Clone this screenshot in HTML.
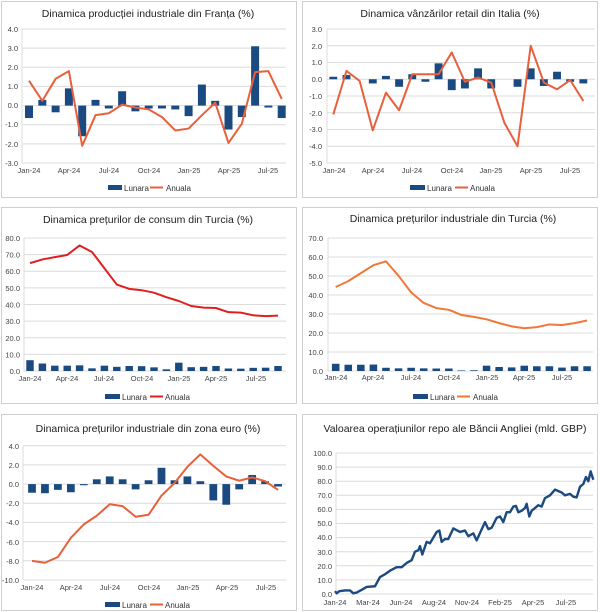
<!DOCTYPE html>
<html><head><meta charset="utf-8"><style>
html,body{margin:0;padding:0;background:#fff}
svg{display:block;font-family:"Liberation Sans",sans-serif}
.t{font-size:10.5px;fill:#222;text-anchor:middle}
.y{font-size:7.5px;fill:#444;text-anchor:end}
.x{font-size:7.5px;fill:#444;text-anchor:middle}
.l{font-size:8px;fill:#333}
.g{stroke:#dcdcdc;stroke-width:1}
.b{fill:#1b4a80}
.ln{fill:none;stroke-width:2;vector-effect:non-scaling-stroke;stroke-linejoin:round}
.box{fill:none;stroke:#cfcfcf;stroke-width:1}
</style></head><body>
<svg width="600" height="612" viewBox="0 0 600 612">
<rect class="box" x="1.5" y="1.5" width="295" height="196"/>
<rect class="box" x="302.5" y="1.5" width="295" height="196"/>
<rect class="box" x="1.5" y="207.5" width="295" height="196"/>
<rect class="box" x="302.5" y="207.5" width="295" height="196"/>
<rect class="box" x="1.5" y="414.5" width="295" height="196"/>
<rect class="box" x="302.5" y="414.5" width="295" height="196"/>

<!-- Panel 1 -->
<text class="t" x="148" y="17">Dinamica producției industriale din Franța (%)</text>
<g class="g"><line x1="22" x2="286" y1="29" y2="29"/><line x1="22" x2="286" y1="48.1" y2="48.1"/><line x1="22" x2="286" y1="67.3" y2="67.3"/><line x1="22" x2="286" y1="86.4" y2="86.4"/><line x1="22" x2="286" y1="105.6" y2="105.6"/><line x1="22" x2="286" y1="124.7" y2="124.7"/><line x1="22" x2="286" y1="143.9" y2="143.9"/><line x1="22" x2="286" y1="163" y2="163"/><line x1="22" x2="22" y1="29" y2="163"/></g>
<g class="y"><text x="18" y="32">4.0</text><text x="18" y="51">3.0</text><text x="18" y="70">2.0</text><text x="18" y="89">1.0</text><text x="18" y="108">0.0</text><text x="18" y="127">-1.0</text><text x="18" y="147">-2.0</text><text x="18" y="166">-3.0</text></g>
<g class="x"><text x="29" y="173">Jan-24</text><text x="69" y="173">Apr-24</text><text x="109" y="173">Jul-24</text><text x="149" y="173">Oct-24</text><text x="189" y="173">Jan-25</text><text x="229" y="173">Apr-25</text><text x="268" y="173">Jul-25</text></g>
<g transform="translate(29,105.6) scale(13.3,-19.14)">
<g class="b"><rect x="-.3" y="-.65" width=".6" height=".65"/><rect x=".7" y="0" width=".6" height=".3"/><rect x="1.7" y="-.35" width=".6" height=".35"/><rect x="2.7" y="0" width=".6" height=".9"/><rect x="3.7" y="-1.6" width=".6" height="1.6"/><rect x="4.7" y="0" width=".6" height=".3"/><rect x="5.7" y="-.15" width=".6" height=".15"/><rect x="6.7" y="0" width=".6" height=".75"/><rect x="7.7" y="-.3" width=".6" height=".3"/><rect x="8.7" y="-.15" width=".6" height=".15"/><rect x="9.7" y="-.15" width=".6" height=".15"/><rect x="10.7" y="-.2" width=".6" height=".2"/><rect x="11.7" y="-.55" width=".6" height=".55"/><rect x="12.7" y="0" width=".6" height="1.1"/><rect x="13.7" y="0" width=".6" height=".25"/><rect x="14.7" y="-1.25" width=".6" height="1.25"/><rect x="15.7" y="-.6" width=".6" height=".6"/><rect x="16.7" y="0" width=".6" height="3.1"/><rect x="17.7" y="-.1" width=".6" height=".1"/><rect x="18.7" y="-.65" width=".6" height=".65"/></g>
<polyline class="ln" stroke="#e8603c" points="0,1.3 1,0.25 2,1.4 3,1.8 4,-2.1 5,-0.5 6,-0.4 7,0.05 8,-0.1 9,-0.2 10,-0.6 11,-1.3 12,-1.2 13,-0.5 14,0.15 15,-1.95 16,-0.95 17,1.75 18,1.8 19,0.35"/>
</g>
<rect class="b" x="108" y="185" width="14" height="5"/><text class="l" x="124" y="191">Lunara</text>
<line x1="150" x2="163" y1="187.5" y2="187.5" stroke="#e8603c" stroke-width="2"/><text class="l" x="166" y="191">Anuala</text>

<!-- Panel 2 -->
<text class="t" x="450" y="17">Dinamica vânzărilor retail din Italia (%)</text>
<g class="g"><line x1="327" x2="595" y1="29" y2="29"/><line x1="327" x2="595" y1="45.75" y2="45.75"/><line x1="327" x2="595" y1="62.5" y2="62.5"/><line x1="327" x2="595" y1="79.25" y2="79.25"/><line x1="327" x2="595" y1="96" y2="96"/><line x1="327" x2="595" y1="112.75" y2="112.75"/><line x1="327" x2="595" y1="129.5" y2="129.5"/><line x1="327" x2="595" y1="146.25" y2="146.25"/><line x1="327" x2="595" y1="163" y2="163"/><line x1="327" x2="327" y1="29" y2="163"/></g>
<g class="y"><text x="322" y="32">3.0</text><text x="322" y="49">2.0</text><text x="322" y="65">1.0</text><text x="322" y="82">0.0</text><text x="322" y="99">-1.0</text><text x="322" y="116">-2.0</text><text x="322" y="132">-3.0</text><text x="322" y="149">-4.0</text><text x="322" y="166">-5.0</text></g>
<g class="x"><text x="334" y="173">Jan-24</text><text x="373" y="173">Apr-24</text><text x="412" y="173">Jul-24</text><text x="452" y="173">Oct-24</text><text x="491" y="173">Jan-25</text><text x="531" y="173">Apr-25</text><text x="570" y="173">Jul-25</text></g>
<g transform="translate(333.3,79.25) scale(13.16,-16.75)">
<g class="b"><rect x="-.3" y="0" width=".6" height=".15"/><rect x=".7" y="0" width=".6" height=".25"/><rect x="2.7" y="-.25" width=".6" height=".25"/><rect x="3.7" y="0" width=".6" height=".2"/><rect x="4.7" y="-.45" width=".6" height=".45"/><rect x="5.7" y="0" width=".6" height=".3"/><rect x="6.7" y="-.15" width=".6" height=".15"/><rect x="7.7" y="0" width=".6" height=".95"/><rect x="8.7" y="-.65" width=".6" height=".65"/><rect x="9.7" y="-.55" width=".6" height=".55"/><rect x="10.7" y="0" width=".6" height=".65"/><rect x="11.7" y="-.55" width=".6" height=".55"/><rect x="13.7" y="-.45" width=".6" height=".45"/><rect x="14.7" y="0" width=".6" height=".65"/><rect x="15.7" y="-.4" width=".6" height=".4"/><rect x="16.7" y="0" width=".6" height=".45"/><rect x="17.7" y="-.15" width=".6" height=".15"/><rect x="18.7" y="-.25" width=".6" height=".25"/></g>
<polyline class="ln" stroke="#e8603c" points="0,-2.1 1,0.5 2,-0.1 3,-3.05 4,-0.8 5,-1.85 6,0.3 7,0.3 8,0.3 9,1.6 10,-0.15 11,0.1 12,-0.2 13,-2.6 14,-4.0 15,2.0 16,-0.2 17,-0.6 18,-0.05 19,-1.3"/>
</g>
<rect class="b" x="410" y="185" width="15" height="5"/><text class="l" x="427" y="191">Lunara</text>
<line x1="455" x2="468" y1="187.5" y2="187.5" stroke="#e8603c" stroke-width="2"/><text class="l" x="470" y="191">Anuala</text>

<!-- Panel 3 -->
<text class="t" x="148" y="223">Dinamica prețurilor de consum din Turcia (%)</text>
<g class="g"><line x1="24" x2="286" y1="238" y2="238"/><line x1="24" x2="286" y1="254.6" y2="254.6"/><line x1="24" x2="286" y1="271.25" y2="271.25"/><line x1="24" x2="286" y1="287.9" y2="287.9"/><line x1="24" x2="286" y1="304.5" y2="304.5"/><line x1="24" x2="286" y1="321.1" y2="321.1"/><line x1="24" x2="286" y1="337.75" y2="337.75"/><line x1="24" x2="286" y1="354.4" y2="354.4"/><line x1="24" x2="286" y1="371" y2="371"/><line x1="24" x2="24" y1="238" y2="371"/></g>
<g class="y"><text x="20" y="241">80.0</text><text x="20" y="257.5">70.0</text><text x="20" y="274">60.0</text><text x="20" y="291">50.0</text><text x="20" y="307.5">40.0</text><text x="20" y="324">30.0</text><text x="20" y="341">20.0</text><text x="20" y="357.5">10.0</text><text x="20" y="374">0.0</text></g>
<g class="x"><text x="30" y="381">Jan-24</text><text x="67" y="381">Apr-24</text><text x="104" y="381">Jul-24</text><text x="142" y="381">Oct-24</text><text x="179" y="381">Jan-25</text><text x="216" y="381">Apr-25</text><text x="256" y="381">Jul-25</text></g>
<g transform="translate(30,371) scale(12.4,-1.6625)">
<g class="b"><rect x="-.3" y="0" width=".6" height="6.5"/><rect x=".7" y="0" width=".6" height="4.5"/><rect x="1.7" y="0" width=".6" height="3.2"/><rect x="2.7" y="0" width=".6" height="3.2"/><rect x="3.7" y="0" width=".6" height="3.4"/><rect x="4.7" y="0" width=".6" height="1.6"/><rect x="5.7" y="0" width=".6" height="3.2"/><rect x="6.7" y="0" width=".6" height="2.5"/><rect x="7.7" y="0" width=".6" height="3.0"/><rect x="8.7" y="0" width=".6" height="2.9"/><rect x="9.7" y="0" width=".6" height="2.2"/><rect x="10.7" y="0" width=".6" height="1.0"/><rect x="11.7" y="0" width=".6" height="5.0"/><rect x="12.7" y="0" width=".6" height="2.3"/><rect x="13.7" y="0" width=".6" height="2.5"/><rect x="14.7" y="0" width=".6" height="3.0"/><rect x="15.7" y="0" width=".6" height="1.5"/><rect x="16.7" y="0" width=".6" height="1.4"/><rect x="17.7" y="0" width=".6" height="1.9"/><rect x="18.7" y="0" width=".6" height="2.0"/><rect x="19.7" y="0" width=".6" height="3.0"/></g>
<polyline class="ln" stroke="#e02020" points="0,64.9 1,67.1 2,68.5 3,69.8 4,75.5 5,71.6 6,61.8 7,52.0 8,49.4 9,48.6 10,47.1 11,44.4 12,42.1 13,39.1 14,38.1 15,37.9 16,35.4 17,35.1 18,33.5 19,33.0 20,33.3"/>
</g>
<rect class="b" x="105" y="394" width="15" height="5"/><text class="l" x="122" y="400">Lunara</text>
<line x1="150" x2="163" y1="396.5" y2="396.5" stroke="#e02020" stroke-width="2"/><text class="l" x="165" y="400">Anuala</text>

<!-- Panel 4 -->
<text class="t" x="453" y="222">Dinamica prețurilor industriale din Turcia (%)</text>
<g class="g"><line x1="328" x2="593" y1="238" y2="238"/><line x1="328" x2="593" y1="257" y2="257"/><line x1="328" x2="593" y1="276" y2="276"/><line x1="328" x2="593" y1="295" y2="295"/><line x1="328" x2="593" y1="314" y2="314"/><line x1="328" x2="593" y1="333" y2="333"/><line x1="328" x2="593" y1="352" y2="352"/><line x1="328" x2="593" y1="371" y2="371"/><line x1="328" x2="328" y1="238" y2="371"/></g>
<g class="y"><text x="323" y="241">70.0</text><text x="323" y="260">60.0</text><text x="323" y="279">50.0</text><text x="323" y="298">40.0</text><text x="323" y="317">30.0</text><text x="323" y="336">20.0</text><text x="323" y="355">10.0</text><text x="323" y="374">0.0</text></g>
<g class="x"><text x="336" y="380">Jan-24</text><text x="373" y="380">Apr-24</text><text x="411" y="380">Jul-24</text><text x="449" y="380">Oct-24</text><text x="487" y="380">Jan-25</text><text x="524" y="380">Apr-25</text><text x="562" y="380">Jul-25</text></g>
<g transform="translate(335.7,371) scale(12.57,-1.9)">
<g class="b"><rect x="-.3" y="0" width=".6" height="3.8"/><rect x=".7" y="0" width=".6" height="3.3"/><rect x="1.7" y="0" width=".6" height="3.3"/><rect x="2.7" y="0" width=".6" height="3.4"/><rect x="3.7" y="0" width=".6" height="1.7"/><rect x="4.7" y="0" width=".6" height="1.4"/><rect x="5.7" y="0" width=".6" height="1.7"/><rect x="6.7" y="0" width=".6" height="1.4"/><rect x="7.7" y="0" width=".6" height="1.3"/><rect x="8.7" y="0" width=".6" height="1.3"/><rect x="9.7" y="0" width=".6" height="0.3"/><rect x="10.7" y="0" width=".6" height="0.4"/><rect x="11.7" y="0" width=".6" height="2.8"/><rect x="12.7" y="0" width=".6" height="2.1"/><rect x="13.7" y="0" width=".6" height="1.9"/><rect x="14.7" y="0" width=".6" height="2.8"/><rect x="15.7" y="0" width=".6" height="2.5"/><rect x="16.7" y="0" width=".6" height="2.5"/><rect x="17.7" y="0" width=".6" height="1.8"/><rect x="18.7" y="0" width=".6" height="2.5"/><rect x="19.7" y="0" width=".6" height="2.5"/></g>
<polyline class="ln" stroke="#f07838" points="0,44.2 1,47.3 2,51.5 3,55.7 4,57.7 5,50.1 6,41.4 7,35.8 8,33.1 9,32.2 10,29.5 11,28.5 12,27.2 13,25.2 14,23.5 15,22.5 16,23.1 17,24.5 18,24.2 19,25.2 20,26.6"/>
</g>
<rect class="b" x="413" y="394" width="15" height="5"/><text class="l" x="430" y="400">Lunara</text>
<line x1="457" x2="470" y1="396.5" y2="396.5" stroke="#f07838" stroke-width="2"/><text class="l" x="473" y="400">Anuala</text>

<!-- Panel 5 -->
<text class="t" x="148" y="432">Dinamica prețurilor industriale din zona euro (%)</text>
<g class="g"><line x1="23" x2="286" y1="445.7" y2="445.7"/><line x1="23" x2="286" y1="464.9" y2="464.9"/><line x1="23" x2="286" y1="484.1" y2="484.1"/><line x1="23" x2="286" y1="503.2" y2="503.2"/><line x1="23" x2="286" y1="522.4" y2="522.4"/><line x1="23" x2="286" y1="541.6" y2="541.6"/><line x1="23" x2="286" y1="560.8" y2="560.8"/><line x1="23" x2="286" y1="580" y2="580"/><line x1="23" x2="23" y1="445.7" y2="580"/></g>
<g class="y"><text x="19" y="449">4.0</text><text x="19" y="468">2.0</text><text x="19" y="487">0.0</text><text x="19" y="506">-2.0</text><text x="19" y="525">-4.0</text><text x="19" y="545">-6.0</text><text x="19" y="564">-8.0</text><text x="19" y="583">-10.0</text></g>
<g class="x"><text x="32" y="590">Jan-24</text><text x="71" y="590">Apr-24</text><text x="110" y="590">Jul-24</text><text x="149" y="590">Oct-24</text><text x="188" y="590">Jan-25</text><text x="227" y="590">Apr-25</text><text x="266" y="590">Jul-25</text></g>
<g transform="translate(32,484.1) scale(12.95,-9.593)">
<g class="b"><rect x="-.3" y="-.9" width=".6" height=".9"/><rect x=".7" y="-.95" width=".6" height=".95"/><rect x="1.7" y="-.6" width=".6" height=".6"/><rect x="2.7" y="-.85" width=".6" height=".85"/><rect x="3.7" y="-.12" width=".6" height=".12"/><rect x="4.7" y="0" width=".6" height=".5"/><rect x="5.7" y="0" width=".6" height=".8"/><rect x="6.7" y="0" width=".6" height=".5"/><rect x="7.7" y="-.55" width=".6" height=".55"/><rect x="8.7" y="0" width=".6" height=".4"/><rect x="9.7" y="0" width=".6" height="1.7"/><rect x="10.7" y="0" width=".6" height=".4"/><rect x="11.7" y="0" width=".6" height=".8"/><rect x="12.7" y="0" width=".6" height=".3"/><rect x="13.7" y="-1.7" width=".6" height="1.7"/><rect x="14.7" y="-2.15" width=".6" height="2.15"/><rect x="15.7" y="-.55" width=".6" height=".55"/><rect x="16.7" y="0" width=".6" height=".95"/><rect x="17.7" y="0" width=".6" height=".3"/><rect x="18.7" y="-.25" width=".6" height=".25"/></g>
<polyline class="ln" stroke="#e8603c" points="0,-8.0 1,-8.2 2,-7.6 3,-5.6 4,-4.2 5,-3.3 6,-2.1 7,-2.3 8,-3.4 9,-3.2 10,-1.2 11,0.1 12,1.8 13,3.1 14,1.9 15,0.8 16,0.35 17,0.7 18,0.3 19,-0.6"/>
</g>
<rect class="b" x="105" y="602" width="15" height="5"/><text class="l" x="122" y="608">Lunara</text>
<line x1="150" x2="163" y1="604.5" y2="604.5" stroke="#e8603c" stroke-width="2"/><text class="l" x="165" y="608">Anuala</text>

<!-- Panel 6 -->
<text class="t" x="455" y="432">Valoarea operațiunilor repo ale Băncii Angliei (mld. GBP)</text>
<g class="g"><line x1="336" x2="593" y1="453" y2="453"/><line x1="336" x2="593" y1="467.1" y2="467.1"/><line x1="336" x2="593" y1="481.2" y2="481.2"/><line x1="336" x2="593" y1="495.3" y2="495.3"/><line x1="336" x2="593" y1="509.4" y2="509.4"/><line x1="336" x2="593" y1="523.5" y2="523.5"/><line x1="336" x2="593" y1="537.6" y2="537.6"/><line x1="336" x2="593" y1="551.7" y2="551.7"/><line x1="336" x2="593" y1="565.8" y2="565.8"/><line x1="336" x2="593" y1="579.9" y2="579.9"/><line x1="336" x2="593" y1="594" y2="594"/><line x1="336" x2="336" y1="453" y2="594"/></g>
<g class="y"><text x="332" y="456">100.0</text><text x="332" y="470">90.0</text><text x="332" y="484">80.0</text><text x="332" y="498">70.0</text><text x="332" y="512">60.0</text><text x="332" y="526">50.0</text><text x="332" y="540">40.0</text><text x="332" y="555">30.0</text><text x="332" y="569">20.0</text><text x="332" y="583">10.0</text><text x="332" y="597">0.0</text></g>
<g class="x"><text x="335" y="605">Jan-24</text><text x="368" y="605">Mar-24</text><text x="401" y="605">Jun-24</text><text x="434" y="605">Aug-24</text><text x="467" y="605">Nov-24</text><text x="500" y="605">Feb-25</text><text x="533" y="605">Apr-25</text><text x="566" y="605">Jul-25</text></g>
<g transform="translate(300,594) scale(0.3333,-1.41)">
<polyline fill="none" stroke="#1b4a80" stroke-width="2.4" vector-effect="non-scaling-stroke" stroke-linejoin="round" points="105,2 110,0.5 118,2 135,2.5 150,2.5 160,0.5 170,1 185,3 200,5 225,5.5 240,12 255,14 270,16.5 290,19 305,19 320,22 335,24 345,30 355,31 360,34 367,28 380,37 390,36 410,44 418,45 425,37 435,39 445,39 460,46.5 480,44 495,45 505,41 520,43 530,38 555,51 565,46 575,47 590,54 600,55 610,51 620,58 630,58 640,62 648,62.5 655,58 665,59 675,61 680,64 688,55 695,59 705,61 715,63 725,62 735,68 750,70 765,74 785,72 795,70 810,71 820,69 830,68.5 840,76 850,78 858,83 865,80 872,87 880,81"/>
</g>
</svg>
</body></html>
